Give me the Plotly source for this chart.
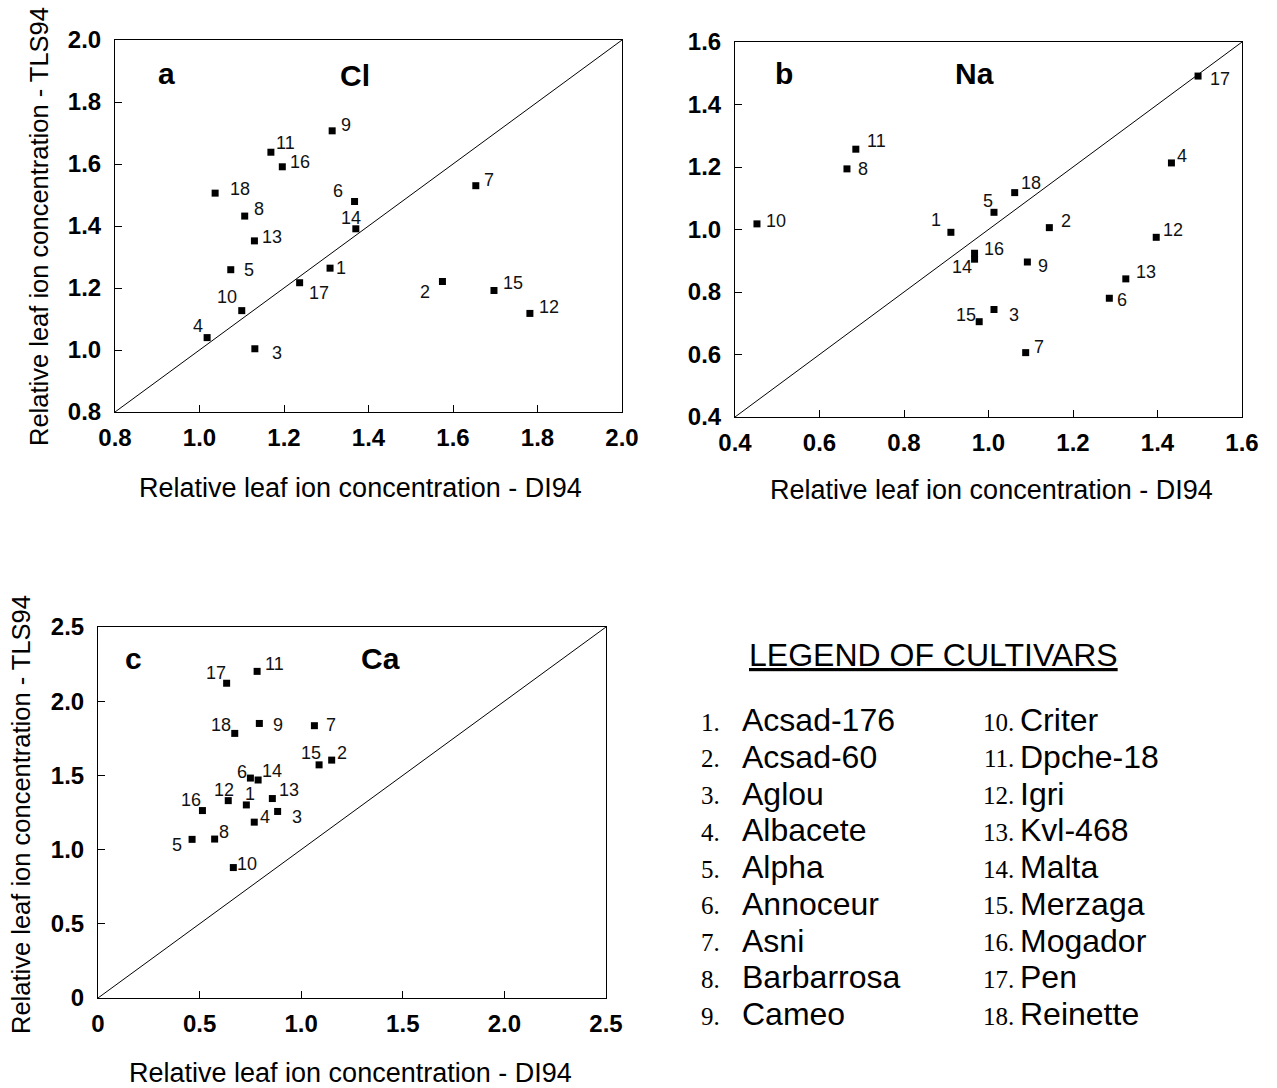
import plotly.graph_objects as go

W, H = 1277, 1088

ids = list(range(1, 19))
cultivars = ["Acsad-176", "Acsad-60", "Aglou", "Albacete", "Alpha", "Annoceur",
             "Asni", "Barbarrosa", "Cameo", "Criter", "Dpche-18", "Igri",
             "Kvl-468", "Malta", "Merzaga", "Mogador", "Pen", "Reinette"]

# Panel a: Cl
cl_x = [1.309, 1.575, 1.131, 1.018, 1.074, 1.367, 1.654, 1.107, 1.314,
        1.100, 1.169, 1.782, 1.130, 1.370, 1.697, 1.196, 1.237, 1.037]
cl_y = [1.264, 1.221, 1.004, 1.040, 1.259, 1.479, 1.530, 1.432, 1.707,
        1.127, 1.638, 1.118, 1.352, 1.391, 1.192, 1.591, 1.217, 1.506]

# Panel b: Na
na_x = [0.911, 1.144, 1.013, 1.433, 1.013, 1.286, 1.088, 0.665, 1.092,
        0.452, 0.686, 1.397, 1.325, 0.967, 0.978, 0.967, 1.496, 1.062]
na_y = [0.991, 1.006, 0.744, 1.213, 1.055, 0.780, 0.606, 1.194, 0.896,
        1.018, 1.257, 0.975, 0.842, 0.905, 0.705, 0.924, 1.491, 1.118]

# Panel c: Ca
ca_x = [0.730, 1.150, 0.884, 0.769, 0.463, 0.750, 1.065, 0.574, 0.794,
        0.666, 0.783, 0.641, 0.858, 0.788, 1.088, 0.514, 0.633, 0.673]
ca_y = [1.301, 1.603, 1.257, 1.185, 1.069, 1.482, 1.835, 1.071, 1.850,
        0.879, 2.201, 1.330, 1.344, 1.469, 1.571, 1.263, 2.121, 1.783]

a_ticks = [0.8, 1.0, 1.2, 1.4, 1.6, 1.8, 2.0]
a_ticktext = ["0.8", "1.0", "1.2", "1.4", "1.6", "1.8", "2.0"]
b_ticks = [0.4, 0.6, 0.8, 1.0, 1.2, 1.4, 1.6]
b_ticktext = ["0.4", "0.6", "0.8", "1.0", "1.2", "1.4", "1.6"]
c_ticks = [0, 0.5, 1.0, 1.5, 2.0, 2.5]
c_ticktext = ["0", "0.5", "1.0", "1.5", "2.0", "2.5"]

panel_letters = ["a", "b", "c"]
ions = ["Cl", "Na", "Ca"]
x_title = "Relative leaf ion concentration - DI94"
y_title = "Relative leaf ion concentration - TLS94"
legend_title = "LEGEND OF CULTIVARS"

# label offsets (pixels, dx right, dy down) -- layout only
off_a = [(11, 0), (-17, 11), (22, 4), (-9, -12), (18, 0), (-17, -11), (13, -6),
         (14, -7), (14, -6), (-15, -14), (15, -9), (19, -6), (18, -4), (-5, -11),
         (19, -7), (18, -5), (19, 10), (25, -4)]
off_b = [(-15, -12), (17, -7), (20, 5), (11, -7), (-6, -11), (13, 2), (13, -6),
         (16, 0), (16, 4), (19, -3), (21, -8), (17, -7), (20, -7), (-13, 8),
         (-13, -7), (19, -4), (22, 3), (16, -10)]
off_c = [(4, -11), (10, -7), (19, 6), (11, -5), (-15, 6), (-8, -6), (17, -1),
         (9, -7), (19, 2), (14, -4), (17, -7), (-4, -11), (17, -9), (14, -9),
         (-8, -12), (-11, -11), (-11, -10), (-14, -8)]

SANS = "Liberation Sans, Arial, sans-serif"
SERIF = "Liberation Serif, Times New Roman, serif"

def px(x):
    return x / W

def py(y):
    return 1 - y / H

fig = go.Figure()

panels = [
    dict(xs=cl_x, ys=cl_y, ticks=a_ticks, tt=a_ticktext, off=off_a,
         dom_x=(115, 622), dom_y=(40, 412), ax="x", ay="y"),
    dict(xs=na_x, ys=na_y, ticks=b_ticks, tt=b_ticktext, off=off_b,
         dom_x=(735, 1242), dom_y=(42, 417), ax="x2", ay="y2"),
    dict(xs=ca_x, ys=ca_y, ticks=c_ticks, tt=c_ticktext, off=off_c,
         dom_x=(98, 606), dom_y=(627, 998), ax="x3", ay="y3"),
]

annotations = []
for i, p in enumerate(panels):
    lo, hi = p["ticks"][0], p["ticks"][-1]
    fig.add_trace(go.Scatter(x=[lo, hi], y=[lo, hi], mode="lines",
                             line=dict(color="black", width=1),
                             xaxis=p["ax"], yaxis=p["ay"], showlegend=False,
                             hoverinfo="skip"))
    fig.add_trace(go.Scatter(x=p["xs"], y=p["ys"], mode="markers",
                             marker=dict(symbol="square", size=7, color="black"),
                             xaxis=p["ax"], yaxis=p["ay"], showlegend=False,
                             text=cultivars))
    for k, n in enumerate(ids):
        dx, dy = p["off"][k]
        annotations.append(dict(x=p["xs"][k], y=p["ys"][k], xref=p["ax"], yref=p["ay"],
                                text=str(n), showarrow=False, xshift=dx, yshift=-dy,
                                xanchor="center", yanchor="middle",
                                font=dict(family=SANS, size=18, color="#111")))
    axis_common = dict(showgrid=False, zeroline=False, showline=True, mirror=True,
                       linecolor="black", linewidth=1, ticks="inside", ticklen=7,
                       tickcolor="black", tickwidth=1, automargin=False,
                       tickfont=dict(family=SANS, size=24, color="black", weight="bold"))
    xk = "xaxis" if i == 0 else "xaxis%d" % (i + 1)
    yk = "yaxis" if i == 0 else "yaxis%d" % (i + 1)
    fig.update_layout(**{
        xk: dict(axis_common, range=[lo, hi], tickvals=p["ticks"], ticktext=p["tt"],
                 domain=[px(p["dom_x"][0]), px(p["dom_x"][1])], anchor=p["ay"],
                 ticklabelstandoff=4),
        yk: dict(axis_common, range=[lo, hi], tickvals=p["ticks"], ticktext=p["tt"],
                 domain=[py(p["dom_y"][1]), py(p["dom_y"][0])], anchor=p["ax"],
                 ticklabelstandoff=8),
    })

# panel letters and ion names
letter_pos = [(166, 73), (784, 73), (133, 658)]
ion_pos = [(355, 75), (974, 74), (381, 658)]
for i in range(3):
    annotations.append(dict(x=px(letter_pos[i][0]), y=py(letter_pos[i][1]), xref="paper", yref="paper",
                            text=panel_letters[i], showarrow=False, xanchor="center", yanchor="middle",
                            font=dict(family=SANS, size=30, color="black", weight="bold")))
    annotations.append(dict(x=px(ion_pos[i][0]), y=py(ion_pos[i][1]), xref="paper", yref="paper",
                            text=ions[i], showarrow=False, xanchor="center", yanchor="middle",
                            font=dict(family=SANS, size=30, color="black", weight="bold")))

# axis titles
xt_pos = [(360, 488), (991, 490), (350, 1073)]
for (x, y) in xt_pos:
    annotations.append(dict(x=px(x), y=py(y), xref="paper", yref="paper", text=x_title,
                            showarrow=False, xanchor="center", yanchor="middle",
                            font=dict(family=SANS, size=27, color="black")))
yt_pos = [(39, 227), (21, 815)]
for (x, y) in yt_pos:
    annotations.append(dict(x=px(x), y=py(y), xref="paper", yref="paper", text=y_title,
                            showarrow=False, xanchor="center", yanchor="middle", textangle=-90,
                            font=dict(family=SANS, size=25.5, color="black")))

# legend of cultivars
annotations.append(dict(x=px(933), y=py(655), xref="paper", yref="paper",
                        text="<u>" + legend_title + "</u>", showarrow=False,
                        xanchor="center", yanchor="middle",
                        font=dict(family=SANS, size=32, color="black")))
row0, row_step = 720, 36.75
for k, n in enumerate(ids):
    col = 0 if k < 9 else 1
    r = k if k < 9 else k - 9
    yy = row0 + r * row_step
    num_x = 722 if col == 0 else 1016
    name_x = 740 if col == 0 else 1018
    annotations.append(dict(x=px(num_x), y=py(yy + 2), xref="paper", yref="paper",
                            text="%d." % n, showarrow=False, xanchor="right", yanchor="middle",
                            font=dict(family=SERIF, size=25, color="black")))
    annotations.append(dict(x=px(name_x), y=py(yy), xref="paper", yref="paper",
                            text=cultivars[k], showarrow=False, xanchor="left", yanchor="middle",
                            font=dict(family=SANS, size=32, color="black")))

fig.update_layout(width=W, height=H, margin=dict(l=0, r=0, t=0, b=0),
                  paper_bgcolor="white", plot_bgcolor="white",
                  annotations=annotations, showlegend=False)

fig.write_html("out.html")
